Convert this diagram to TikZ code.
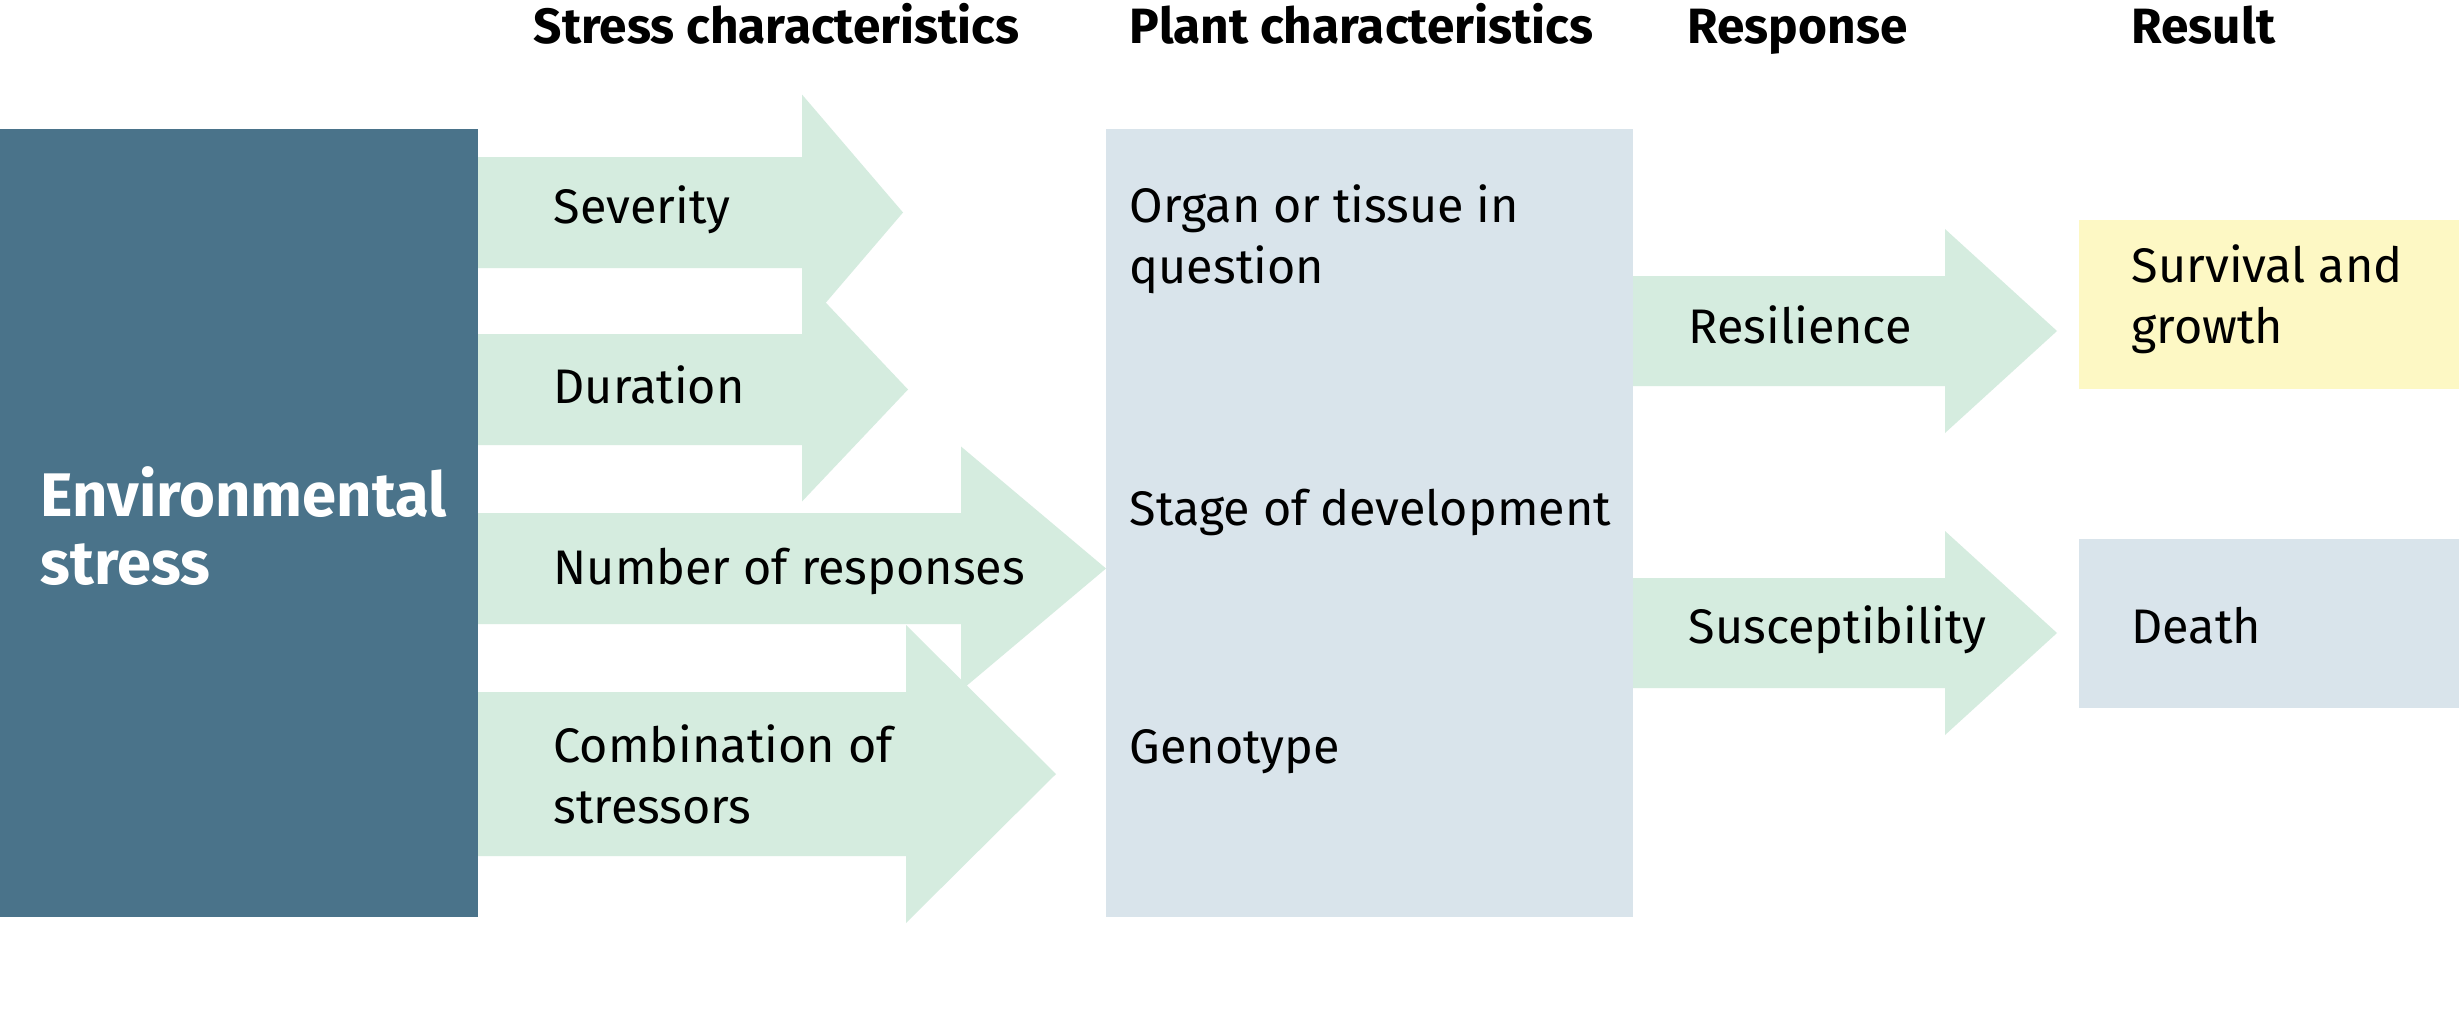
\documentclass[tikz,border=0pt]{standalone}
\usepackage{fontspec}
\setmainfont{Fira Sans}
\begin{document}
\begin{tikzpicture}[x=0.01cm,y=-0.01cm,
  envfill/.style={fill=envblue},
  arrowfill/.style={fill=arrowgreen},
  plainbox/.style={draw=none,inner sep=0pt,outer sep=0pt},
  head/.style={anchor=base west,inner sep=0pt,font=\fontsize{14.1}{17}\selectfont\bfseries},
  lbl/.style={anchor=base west,inner sep=0pt,align=left,font=\fontsize{13.8}{17.07}\selectfont},
  envlbl/.style={anchor=base west,inner sep=0pt,align=left,text=white,font=\fontsize{17.5}{19.06}\selectfont\bfseries}]
\definecolor{envblue}{RGB}{74,115,138}
\definecolor{arrowgreen}{RGB}{213,236,223}
\definecolor{plantblue}{RGB}{217,228,235}
\definecolor{survyellow}{RGB}{253,248,196}
\useasboundingbox[fill=white] (0,0) rectangle (2459,1030);
% boxes
\node[plainbox,fill=envblue,minimum width=478*0.01cm,minimum height=788*0.01cm,anchor=north west] (env) at (0,129) {};
\node[plainbox,fill=plantblue,minimum width=527*0.01cm,minimum height=788*0.01cm,anchor=north west] (plant) at (1106,129) {};
\node[plainbox,fill=survyellow,minimum width=380*0.01cm,minimum height=169*0.01cm,anchor=north west] (surv) at (2079,220) {};
\node[plainbox,fill=plantblue,minimum width=380*0.01cm,minimum height=169*0.01cm,anchor=north west] (death) at (2079,539) {};
% block arrows: x0, ytop, ybot, xhead, half head, xtip
\newcommand\blockarrow[6]{%
  \fill[arrowfill] (#1,#2) -- (#4,#2) -- (#4,{(#2+#3)/2-#5}) -- (#6,{(#2+#3)/2}) -- (#4,{(#2+#3)/2+#5}) -- (#4,#3) -- (#1,#3) -- cycle;}
\blockarrow{478}{157}{268}{802}{118}{903}
\blockarrow{478}{334}{445}{802}{112}{908}
\blockarrow{478}{513}{624}{961}{122}{1106}
\blockarrow{478}{692}{856}{906}{149}{1056}
\blockarrow{1633}{276}{386}{1945}{102}{2057}
\blockarrow{1633}{578}{688}{1945}{102}{2057}
% headers
\node[head] (h1) at (533,43) {Stress characteristics};
\node[head] (h2) at (1129,43) {Plant characteristics};
\node[head] (h3) at (1687,43) {Response};
\node[head] (h4) at (2131,43) {Result};
% labels (base = last line)
\node[envlbl] (envt) at (40,584) {Environmental\\stress};
\node[lbl] (sev) at (553,223) {Severity};
\node[lbl] (dur) at (553,403) {Duration};
\node[lbl] (num) at (553,584) {Number of responses};
\node[lbl] (comb) at (553,823) {Combination of\\stressors};
\node[lbl] (organ) at (1129,283) {Organ or tissue in\\question};
\node[lbl] (stage) at (1129,525) {Stage of development};
\node[lbl] (geno) at (1129,763) {Genotype};
\node[lbl] (res) at (1688,343) {Resilience};
\node[lbl] (sus) at (1688,643) {Susceptibility};
\node[lbl] (survt) at (2131,343) {Survival and\\growth};
\node[lbl] (deatht) at (2131,643) {Death};
\end{tikzpicture}
\end{document}
